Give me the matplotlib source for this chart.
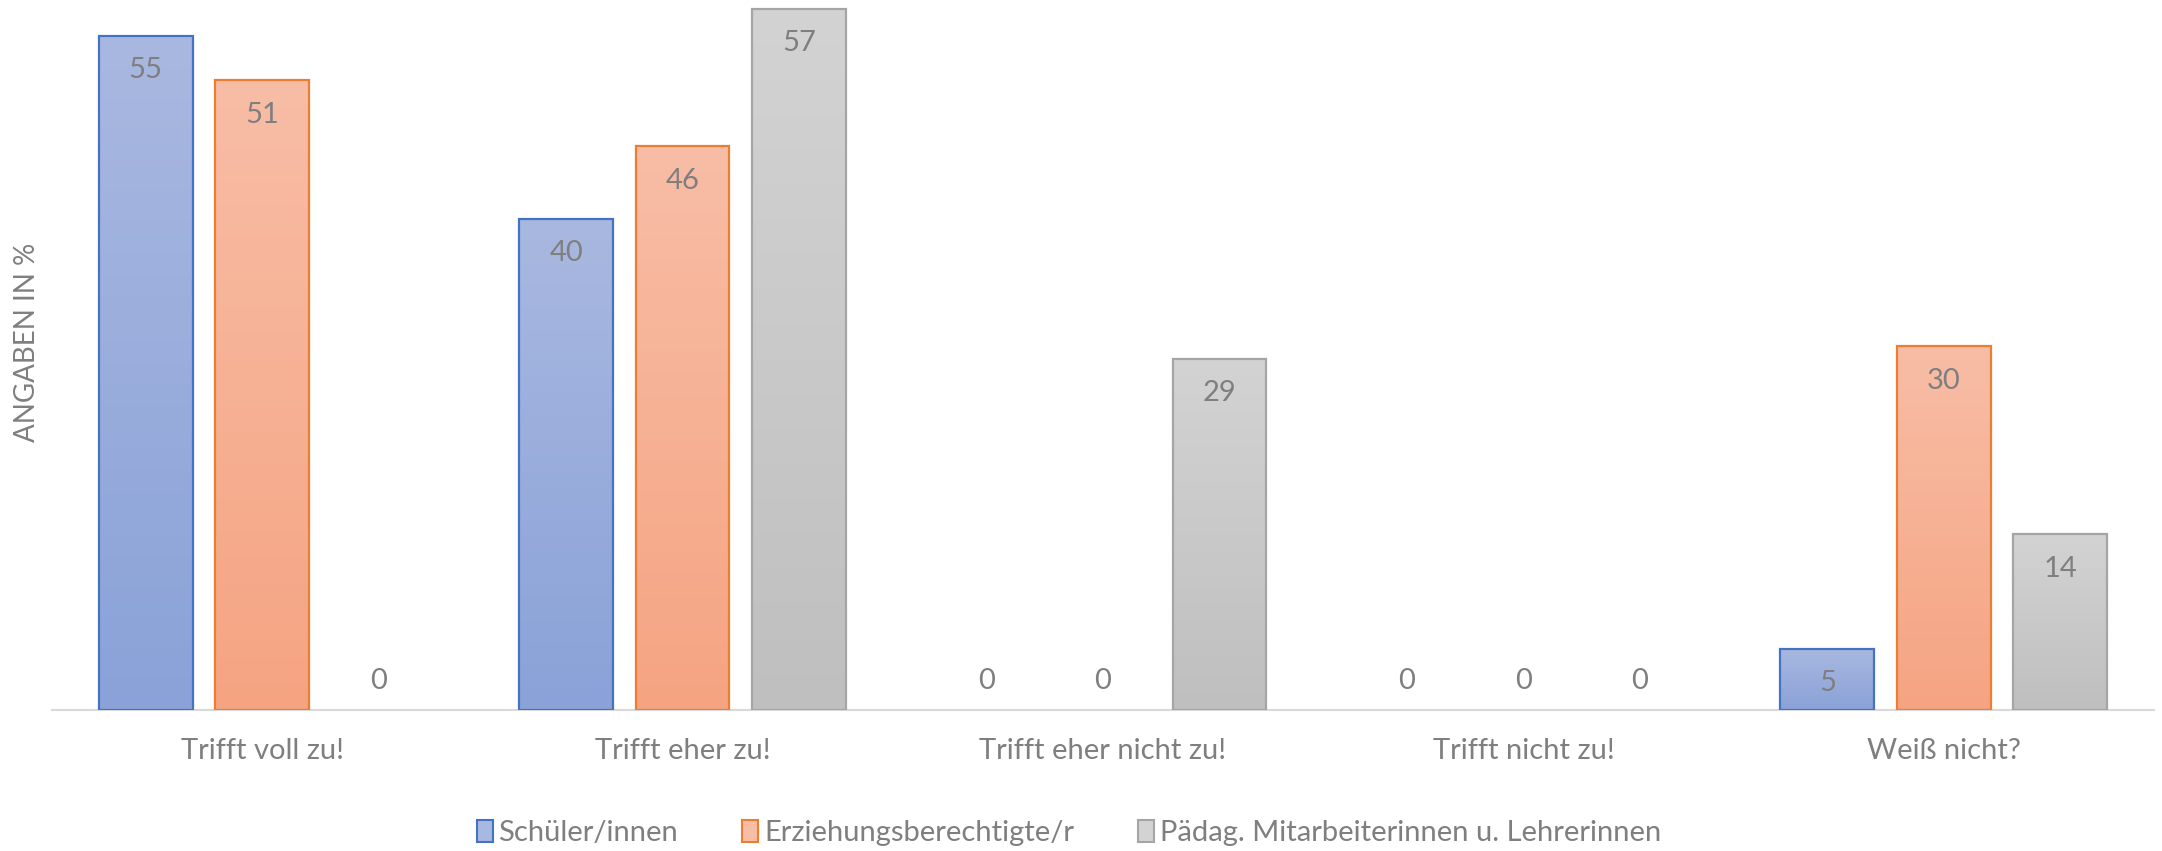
import matplotlib.pyplot as plt
from matplotlib.patches import Patch
import numpy as np

plt.rcParams['font.family'] = ['Lato', 'DejaVu Sans']

# Data (bar heights, labels are rounded)
categories = ['Trifft voll zu!', 'Trifft eher zu!', 'Trifft eher nicht zu!',
              'Trifft nicht zu!', 'Weiß nicht?']
series_names = ['Schüler/innen', 'Erziehungsberechtigte/r',
                'Pädag. Mitarbeiterinnen u. Lehrerinnen']
schueler = [54.9, 40.0, 0, 0, 5.0]
eltern = [51.3, 45.9, 0, 0, 29.6]
paedag = [0, 57.1, 28.6, 0, 14.3]

# Colors: (top of gradient, bottom of gradient, edge)
styles = [
    ('#A9B8E0', '#8AA2D8', '#4472C4'),
    ('#F8BDA6', '#F5A482', '#ED7D31'),
    ('#D3D3D3', '#BFBFBF', '#A5A5A5'),
]
text_color = '#7F7F7F'

fig = plt.figure(figsize=(21.62, 8.51), dpi=100)
ax = fig.add_axes([52 / 2162, 141 / 851, 2102 / 2162, 710 / 851])

x = np.arange(len(categories))
step = 0.277
width = 0.223

for i, (vals, (c_top, c_bot, edge)) in enumerate(zip([schueler, eltern, paedag], styles)):
    pos = x + (i - 1) * step
    bars = ax.bar(pos, vals, width, facecolor='none', edgecolor='none', zorder=3)
    grad = np.linspace(0, 1, 256).reshape(-1, 1)
    cmap = plt.matplotlib.colors.LinearSegmentedColormap.from_list('g', [c_bot, c_top])
    for b, v in zip(bars, vals):
        w = b.get_width()
        if v > 0:
            x0, y0 = b.get_x(), b.get_y()
            h = b.get_height()
            ax.imshow(grad, extent=(x0, x0 + w, y0, y0 + h), origin='lower',
                      cmap=cmap, aspect='auto', zorder=2)
            ax.add_patch(plt.Rectangle((x0, y0), w, h, facecolor='none',
                                       edgecolor=edge, linewidth=1.6, zorder=4))
            ax.annotate(f'{v:.0f}', (x0 + w / 2, v), xytext=(0, -25),
                        textcoords='offset points', ha='center', va='center',
                        fontsize=21, color=text_color, zorder=5)
        else:
            ax.annotate(f'{v:.0f}', (b.get_x() + w / 2, 0), xytext=(0, 21),
                        textcoords='offset points', ha='center', va='center',
                        fontsize=21, color=text_color, zorder=5)

ax.set_xlim(-0.5, len(categories) - 0.5)
ax.set_ylim(0, 57.8)

for s in ['top', 'right', 'left']:
    ax.spines[s].set_visible(False)
ax.spines['bottom'].set_color('#D9D9D9')
ax.spines['bottom'].set_linewidth(1.5)
ax.spines['bottom'].set_zorder(1)
ax.set_yticks([])
ax.set_xticks(x)
ax.set_xticklabels(categories, fontsize=21, color=text_color)
ax.tick_params(axis='x', length=0, pad=20)

fig.text(27 / 2162, 1 - 342 / 851, 'ANGABEN IN %', rotation=90, ha='center',
         va='center', fontsize=20, color=text_color)

handles = [Patch(facecolor=c_top, edgecolor=edge, linewidth=1.5)
           for c_top, c_bot, edge in styles]
leg = fig.legend(handles, series_names, loc='center', bbox_to_anchor=(1069 / 2162, 1 - 833 / 851),
                 ncol=3, frameon=False, fontsize=21, handlelength=0.55, handleheight=0.75,
                 handletextpad=0.2, columnspacing=2.2)
for t in leg.get_texts():
    t.set_color(text_color)

plt.savefig('out.png', dpi=100)
